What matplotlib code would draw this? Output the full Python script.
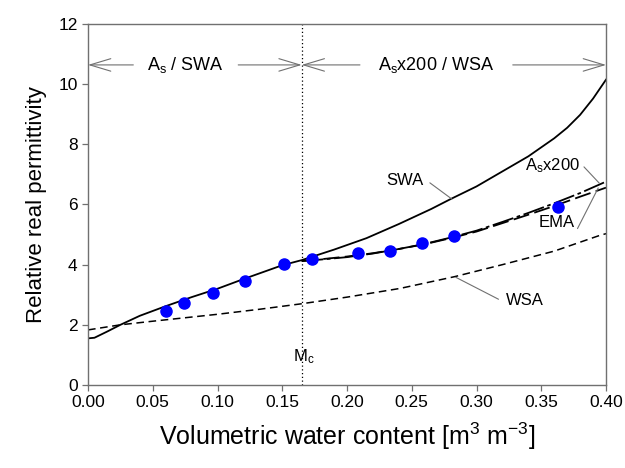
import numpy as np
import matplotlib
matplotlib.use("Agg")
import matplotlib.pyplot as plt

plt.rcParams['font.family'] = ['Liberation Sans', 'DejaVu Sans']
plt.rcParams['mathtext.fontset'] = 'custom'
plt.rcParams['mathtext.rm'] = 'Liberation Sans'
plt.rcParams['mathtext.it'] = 'Liberation Sans'

# datos medidos
theta_obs = [0.060, 0.074, 0.0965, 0.121, 0.151, 0.173, 0.2085, 0.233, 0.258, 0.283, 0.363]
eps_obs = [2.47, 2.72, 3.07, 3.47, 4.01, 4.19, 4.38, 4.46, 4.71, 4.95, 5.93]

# curvas de los modelos
theta_swa = [0, 0.005, 0.015, 0.025, 0.04, 0.06, 0.08, 0.10, 0.12, 0.15, 0.165,
             0.19, 0.215, 0.24, 0.265, 0.28, 0.30, 0.32, 0.34, 0.36, 0.37, 0.38, 0.39, 0.40]
eps_swa = [1.55, 1.57, 1.78, 2.0, 2.3, 2.62, 2.92, 3.2, 3.52, 3.98, 4.15,
           4.5, 4.88, 5.35, 5.85, 6.18, 6.6, 7.1, 7.6, 8.2, 8.55, 8.98, 9.52, 10.15]

theta_ema = [0.165, 0.18, 0.20, 0.22, 0.24, 0.26, 0.28, 0.30, 0.32, 0.34, 0.36, 0.38, 0.40]
eps_ema = [4.12, 4.18, 4.27, 4.38, 4.52, 4.68, 4.88, 5.10, 5.38, 5.66, 5.95, 6.26, 6.56]
eps_as200 = [4.12, 4.17, 4.25, 4.37, 4.52, 4.69, 4.90, 5.13, 5.42, 5.72, 6.04, 6.38, 6.76]

theta_wsa = [0, 0.025, 0.05, 0.10, 0.133, 0.165, 0.20, 0.241, 0.283, 0.32, 0.36, 0.395, 0.40]
eps_wsa = [1.83, 2.0, 2.12, 2.35, 2.52, 2.7, 2.92, 3.21, 3.6, 4.0, 4.45, 4.97, 5.03]

Mc = 0.165

fig = plt.figure(figsize=(6.25, 4.68), dpi=100)
ax = fig.add_axes([0.1408, 0.1774, 0.8288, 0.7713])

ax.plot(theta_swa, eps_swa, 'k-', lw=1.3)
ax.plot(theta_ema, eps_ema, color='k', lw=1.3, dashes=(9, 3))
ax.plot(theta_ema, eps_as200, color='k', lw=1.3, dashes=(12, 2, 2, 2))
ax.plot(theta_wsa, eps_wsa, color='k', lw=1.1, dashes=(5, 3))
ax.plot(theta_obs, eps_obs, 'o', color='#0000ff', ms=8, zorder=5)
ax.axvline(Mc, color='k', lw=0.9, ls=(0, (1, 2)))

# flechas de los dominios
gris = '#707070'
flecha = dict(arrowstyle='->,head_length=1.5,head_width=0.45', color=gris, lw=0.8,
              shrinkA=0, shrinkB=0)
ya = 10.64
ax.annotate('', xy=(0, ya), xytext=(0.035, ya), arrowprops=flecha)
ax.annotate('', xy=(Mc, ya), xytext=(0.116, ya), arrowprops=flecha)
ax.annotate('', xy=(Mc, ya), xytext=(0.21, ya), arrowprops=flecha)
ax.annotate('', xy=(0.4, ya), xytext=(0.328, ya), arrowprops=flecha)
ax.text(0.0755, ya, r'A$_\mathrm{s}$ / SWA', ha='center', va='center', fontsize=13)
ax.text(0.269, ya, r'A$_\mathrm{s}$x200 / WSA', ha='center', va='center', fontsize=13)

# etiquetas de las curvas
lider = dict(arrowstyle='-', color=gris, lw=0.8, shrinkA=0, shrinkB=0)
ax.text(0.245, 6.8, 'SWA', ha='center', va='center', fontsize=12)
ax.annotate('', xy=(0.281, 6.18), xytext=(0.264, 6.72), arrowprops=lider)
ax.text(0.359, 7.3, r'A$_\mathrm{s}$x200', ha='center', va='center', fontsize=12)
ax.annotate('', xy=(0.395, 6.7), xytext=(0.383, 7.25), arrowprops=lider)
ax.text(0.362, 5.4, 'EMA', ha='center', va='center', fontsize=12)
ax.annotate('', xy=(0.394, 6.55), xytext=(0.378, 5.2), arrowprops=lider)
ax.text(0.337, 2.8, 'WSA', ha='center', va='center', fontsize=12)
ax.annotate('', xy=(0.284, 3.58), xytext=(0.317, 2.85), arrowprops=lider)
ax.text(0.158, 0.95, r'M$_\mathrm{c}$', ha='left', va='center', fontsize=12)

ax.set_xlim(0, 0.4)
ax.set_ylim(0, 12)
ax.set_xticks(np.arange(0, 0.401, 0.05))
ax.set_xticklabels([f'{v:.2f}' for v in np.arange(0, 0.401, 0.05)])
ax.set_yticks(range(0, 13, 2))
ax.tick_params(labelsize=12.5, direction='out', length=4, color=gris, width=0.9)
for s in ax.spines.values():
    s.set_color(gris)
    s.set_linewidth(1.0)
ax.set_xlabel(r'Volumetric water content [m$^3$ m$^{-3}$]', fontsize=18, labelpad=7)
ax.set_ylabel('Relative real permittivity', fontsize=16, labelpad=8)

fig.savefig('out.png', dpi=100)
